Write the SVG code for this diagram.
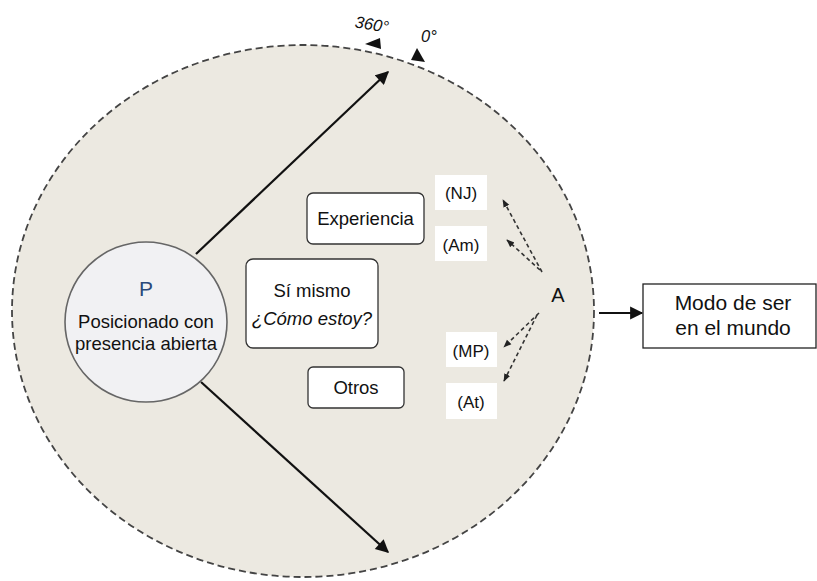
<svg xmlns="http://www.w3.org/2000/svg" width="817" height="581" viewBox="0 0 817 581">
  <defs>
    <marker id="head" viewBox="0 0 10 10" refX="9" refY="5" markerWidth="6.5" markerHeight="6" orient="auto" markerUnits="strokeWidth">
      <path d="M0,0 L10,5 L0,10 Z" fill="#111"/>
    </marker>
    <marker id="headSmall" viewBox="0 0 10 10" refX="9" refY="5" markerWidth="5" markerHeight="5" orient="auto" markerUnits="strokeWidth">
      <path d="M0,1 L10,5 L0,9 Z" fill="#222"/>
    </marker>
    <style>
      .t { font-family: "Liberation Sans", Arial, sans-serif; fill: #111; text-anchor: middle; }
      .box { fill: #fff; stroke: #333; stroke-width: 1.3; }
      .lbl { fill: #fff; stroke: none; }
      .solid { stroke: #111; stroke-width: 2.2; fill: none; }
      .dash { stroke: #333; stroke-width: 1.6; fill: none; stroke-dasharray: 4 3; }
    </style>
  </defs>
  <rect width="817" height="581" fill="#fff"/>

  <!-- world sphere -->
  <g id="world">
    <ellipse cx="303" cy="311" rx="291" ry="266" fill="#ECE9E1" stroke="#444" stroke-width="1.8" stroke-dasharray="7 4"/>
  </g>

  <!-- angle marks on the rim -->
  <g id="angles">
    <path d="M365,44 L380,38 L381,49 Z" fill="#111"/>
    <path d="M417,48 L411,60 L425,62 Z" fill="#111"/>
    <text class="t" x="371" y="30" font-size="16.5" font-style="italic" transform="rotate(9 371 30)">360°</text>
    <text class="t" x="429" y="42" font-size="16.5" font-style="italic">0°</text>
  </g>

  <!-- connectors -->
  <g id="connectors">
    <line class="solid" x1="196" y1="254" x2="388" y2="72" marker-end="url(#head)"/>
    <line class="solid" x1="201" y1="382" x2="388" y2="552" marker-end="url(#head)"/>
    <line class="solid" x1="599" y1="313" x2="642" y2="313" marker-end="url(#head)"/>
    <line class="dash" x1="542" y1="272" x2="503" y2="200" marker-end="url(#headSmall)"/>
    <line class="dash" x1="540" y1="270" x2="507" y2="240" marker-end="url(#headSmall)"/>
    <line class="dash" x1="539" y1="313" x2="504" y2="347" marker-end="url(#headSmall)"/>
    <line class="dash" x1="537" y1="315" x2="504" y2="381" marker-end="url(#headSmall)"/>
  </g>

  <!-- P: positioned person -->
  <g id="P">
    <ellipse cx="146" cy="322" rx="81" ry="80" fill="#F1F1F3" stroke="#666" stroke-width="1.6"/>
    <text class="t" x="146" y="296" font-size="21" style="fill:#2B4A7A">P</text>
    <text class="t" x="146" y="328" font-size="18.5">Posicionado con</text>
    <text class="t" x="146" y="350" font-size="18.5">presencia abierta</text>
  </g>

  <g id="experiencia">
    <rect class="box" x="307" y="193" width="117" height="51" rx="6"/>
    <text class="t" x="365.5" y="225" font-size="18.5">Experiencia</text>
  </g>

  <g id="si-mismo">
    <rect class="box" x="246" y="259" width="132" height="89" rx="7"/>
    <text class="t" x="312" y="297" font-size="18.5">Sí mismo</text>
    <text class="t" x="312" y="325" font-size="18.5" font-style="italic">¿Cómo estoy?</text>
  </g>

  <g id="otros">
    <rect class="box" x="308" y="367" width="96" height="41" rx="5"/>
    <text class="t" x="356" y="394" font-size="18.5">Otros</text>
  </g>

  <g id="NJ">
    <rect class="lbl" x="435" y="175" width="52" height="35"/>
    <text class="t" x="461" y="199" font-size="17">(NJ)</text>
  </g>
  <g id="Am">
    <rect class="lbl" x="435" y="226" width="52" height="35"/>
    <text class="t" x="461" y="251" font-size="17">(Am)</text>
  </g>
  <g id="MP">
    <rect class="lbl" x="446" y="332" width="51" height="35"/>
    <text class="t" x="471" y="357" font-size="17">(MP)</text>
  </g>
  <g id="At">
    <rect class="lbl" x="446" y="383" width="51" height="36"/>
    <text class="t" x="471" y="408" font-size="17">(At)</text>
  </g>

  <g id="A">
    <text class="t" x="558" y="302" font-size="20">A</text>
  </g>

  <g id="modo">
    <rect x="643" y="284" width="173" height="64" fill="#fff" stroke="#222" stroke-width="1.3"/>
    <text class="t" x="733" y="310" font-size="21">Modo de ser</text>
    <text class="t" x="733" y="335" font-size="21">en el mundo</text>
  </g>
</svg>
